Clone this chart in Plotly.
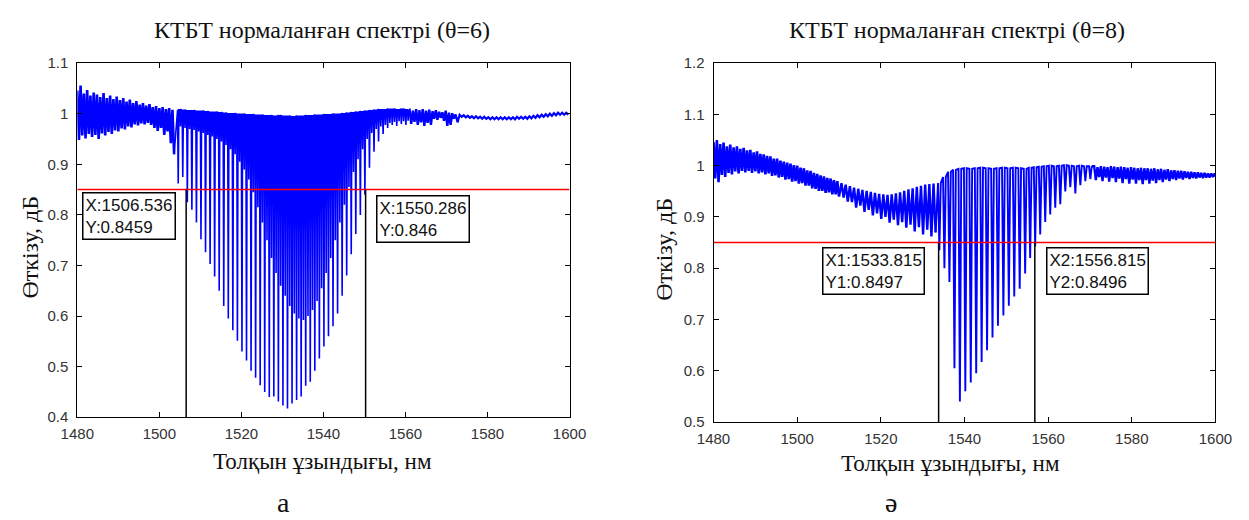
import plotly.graph_objects as go

W, H = 1249, 520

# ---------------- Panel а (θ=6) ----------------
# band 1: 1480.0 .. 1503.2 nm, fringe step 0.8 nm
a1_start, a1_step = 1480.0, 0.8
a1_top = [1.046, 1.056, 1.040, 1.047, 1.036, 1.042, 1.038, 1.033, 1.041, 1.031,
          1.036, 1.029, 1.034, 1.027, 1.031, 1.024, 1.028, 1.021, 1.025, 1.018,
          1.021, 1.016, 1.019, 1.013, 1.015, 1.011, 1.013, 1.009, 1.011, 1.008]
a1_bot = [0.948, 0.957, 0.951, 0.960, 0.954, 0.958, 0.950, 0.961, 0.957, 0.964,
          0.960, 0.967, 0.965, 0.971, 0.969, 0.975, 0.973, 0.979, 0.977, 0.981,
          0.979, 0.982, 0.978, 0.972, 0.966, 0.972, 0.958, 0.965, 0.942, 0.920]
# core: deep fringes every 1.11 nm from 1504.6, shallow fringes half-way between
a2_start, a2_step = 1504.6, 1.11
a2_top = [1.008, 1.007, 1.006, 1.006, 1.005, 1.005, 1.004, 1.003, 1.003, 1.002,
          1.001, 1.000, 1.000, 0.999, 0.999, 0.998, 0.998, 0.997, 0.997, 0.996,
          0.996, 0.995, 0.996, 0.995, 0.995, 0.994, 0.995, 0.995, 0.996, 0.996,
          0.997, 0.997, 0.998, 0.998, 0.999, 0.999, 1.000, 1.001, 1.002, 1.003,
          1.004, 1.005, 1.006, 1.007, 1.008, 1.008, 1.009, 1.009, 1.008, 1.009, 1.008]
a2_deep = [0.862, 0.875, 0.825, 0.810, 0.785, 0.752, 0.726, 0.703, 0.678, 0.650,
           0.620, 0.595, 0.572, 0.551, 0.530, 0.512, 0.492, 0.478, 0.463, 0.450,
           0.440, 0.441, 0.431, 0.423, 0.417, 0.427, 0.434, 0.441, 0.462, 0.470,
           0.492, 0.516, 0.540, 0.560, 0.580, 0.605, 0.640, 0.680, 0.722, 0.762,
           0.800, 0.840, 0.893, 0.925, 0.945, 0.960, 0.972, 0.978, 0.976, 0.980, 0.978]
a2_shallow = [0.975, 0.972, 0.970, 0.968, 0.965, 0.962, 0.958, 0.955, 0.950, 0.945,
              0.938, 0.930, 0.920, 0.905, 0.890, 0.870, 0.845, 0.815, 0.785, 0.750,
              0.715, 0.685, 0.660, 0.640, 0.620, 0.605, 0.595, 0.592, 0.600, 0.612,
              0.630, 0.655, 0.685, 0.715, 0.750, 0.785, 0.820, 0.855, 0.885, 0.910,
              0.930, 0.950, 0.962, 0.970, 0.975, 0.978, 0.982, 0.984, 0.985, 0.985, 0.986]
# band 3: 1561.0 .. 1571.4 nm
a3_start, a3_step = 1561.0, 0.8
a3_top = [1.008, 1.006, 1.009, 1.007, 1.009, 1.006, 1.008, 1.005, 1.007, 1.004,
          1.003, 1.006, 1.002, 1.001]
a3_bot = [0.980, 0.984, 0.978, 0.983, 0.976, 0.982, 0.978, 0.990, 0.988, 0.992,
          0.986, 0.976, 0.978, 0.990]
# band 4: 1572.2 .. 1599.2 nm
a4_start, a4_step = 1572.2, 1.0
a4_top = [0.999, 0.998, 0.997, 0.996, 0.995, 0.995, 0.994, 0.994, 0.993, 0.993,
          0.993, 0.993, 0.993, 0.993, 0.993, 0.994, 0.994, 0.994, 0.995, 0.996,
          0.997, 0.998, 0.999, 1.000, 1.001, 1.002, 1.002, 1.002]
a4_bot = [0.983, 0.994, 0.993, 0.992, 0.991, 0.991, 0.990, 0.990, 0.989, 0.989,
          0.989, 0.989, 0.989, 0.989, 0.989, 0.990, 0.990, 0.990, 0.991, 0.992,
          0.993, 0.994, 0.995, 0.996, 0.997, 0.998, 0.998, 0.998]
a_level = 0.85
a_cursor_x = [1506.536, 1550.286]
a_cursor_y = [0.8459, 0.846]

# ---------------- Panel ә (θ=8) ----------------
b1_start, b1_step = 1480.0, 0.8
b1_top = [1.046, 1.050, 1.042, 1.045, 1.038, 1.041, 1.036, 1.038, 1.033, 1.035,
          1.030, 1.031, 1.026, 1.028, 1.023, 1.022, 1.019, 1.018, 1.014, 1.014,
          1.010, 1.008, 1.006, 1.004, 1.001, 1.000, 0.996, 0.995, 0.991, 0.990,
          0.986, 0.984, 0.981, 0.979, 0.976, 0.975, 0.972, 0.970]
b1_bot = [0.975, 0.968, 0.982, 0.978, 0.986, 0.983, 0.989, 0.985, 0.990, 0.987,
          0.990, 0.986, 0.989, 0.985, 0.987, 0.983, 0.985, 0.980, 0.981, 0.977,
          0.978, 0.973, 0.974, 0.969, 0.970, 0.965, 0.966, 0.961, 0.961, 0.956,
          0.955, 0.951, 0.951, 0.947, 0.948, 0.944, 0.944, 0.940]
b2_start, b2_step = 1510.6, 1.0
b2_top = [0.966, 0.963, 0.960, 0.957, 0.955, 0.953, 0.951, 0.949, 0.947, 0.945,
          0.944, 0.943, 0.944, 0.946, 0.948, 0.951, 0.954, 0.956, 0.959, 0.961,
          0.963, 0.964, 0.965]
b2_bot = [0.938, 0.930, 0.929, 0.918, 0.922, 0.910, 0.914, 0.903, 0.907, 0.896,
          0.900, 0.889, 0.895, 0.884, 0.890, 0.879, 0.885, 0.872, 0.880, 0.866,
          0.875, 0.862, 0.870]
b3_nm = [1534.0, 1535.2, 1536.4, 1537.6, 1538.9, 1540.2, 1541.5, 1542.8, 1544.1, 1545.4,
         1546.7, 1548.0, 1549.3, 1550.6, 1551.9, 1553.2, 1554.5, 1555.7, 1556.9, 1558.1,
         1559.3, 1560.5, 1561.7, 1562.9, 1564.1, 1565.3, 1566.5, 1567.7, 1568.9, 1570.1]
b3_top = [0.966, 0.978, 0.988, 0.992, 0.994, 0.995, 0.994, 0.995, 0.996, 0.995,
          0.994, 0.995, 0.996, 0.995, 0.996, 0.995, 0.994, 0.996, 0.997, 0.998,
          0.999, 1.000, 0.999, 1.000, 1.001, 1.000, 0.999, 1.000, 0.999, 0.999]
b3_bot = [0.835, 0.800, 0.773, 0.605, 0.540, 0.560, 0.577, 0.595, 0.617, 0.640,
          0.665, 0.688, 0.708, 0.727, 0.745, 0.760, 0.790, 0.820, 0.843, 0.866,
          0.890, 0.905, 0.918, 0.925, 0.950, 0.958, 0.946, 0.962, 0.970, 0.974]
b4_start, b4_step = 1571.0, 0.8
b4_top = [0.999, 0.997, 0.999, 0.998, 0.997, 0.999, 0.998, 0.997, 0.998, 0.997,
          0.996, 0.997, 0.996, 0.995, 0.996, 0.995, 0.995, 0.994, 0.995, 0.993,
          0.994, 0.992, 0.993, 0.991, 0.991, 0.990, 0.990, 0.989, 0.988, 0.988,
          0.987, 0.987, 0.986, 0.986, 0.985, 0.985, 0.985]
b4_bot = [0.972, 0.978, 0.970, 0.977, 0.969, 0.976, 0.968, 0.975, 0.966, 0.974,
          0.965, 0.973, 0.965, 0.972, 0.964, 0.972, 0.965, 0.971, 0.966, 0.972,
          0.968, 0.973, 0.970, 0.974, 0.972, 0.975, 0.973, 0.976, 0.974, 0.976,
          0.975, 0.977, 0.976, 0.977, 0.977, 0.978, 0.978]
b_level = 0.85
b_cursor_x = [1533.815, 1556.815]
b_cursor_y = [0.8497, 0.8496]

titles = ["КТБТ нормаланған спектрі (θ=6)", "КТБТ нормаланған спектрі (θ=8)"]
xlabel = "Толқын ұзындығы, нм"
ylabel = "Өткізу, дБ"
captions = ["а", "ә"]
x_ticks = [1480, 1500, 1520, 1540, 1560, 1580, 1600]


def grid(start, step, n):
    return [round(start + step * i, 4) for i in range(n)]


def comb(nm, tops, bots, half):
    """Each fringe: rise to its top, fall to its bottom at nm, rise back."""
    xs, ys = [], []
    for x, t, b in zip(nm, tops, bots):
        xs += [x - half, x, x + half]
        ys += [t, b, t]
    return xs, ys


def zigzag(nm, tops, bots, step):
    """Dense oscillation: top at nm, bottom half a step later."""
    xs, ys = [], []
    for x, t, b in zip(nm, tops, bots):
        xs += [x, round(x + step / 2, 4)]
        ys += [t, b]
    return xs, ys


def core_a():
    deep_nm = grid(a2_start, a2_step, len(a2_top))
    nm, tp, bt = [], [], []
    for d, t, dv, sv in zip(deep_nm, a2_top, a2_deep, a2_shallow):
        nm += [d, round(d + a2_step / 2, 4)]
        tp += [t, t]
        bt += [dv, sv]
    return comb(nm, tp, bt, 0.15)


# (x, y, stroke width) pieces of each spectrum, drawn in order and joined end to end
segs_a = [
    (*zigzag(grid(a1_start, a1_step, len(a1_top)), a1_top, a1_bot, a1_step), 2.6),
    (*core_a(), 1.6),
    (*zigzag(grid(a3_start, a3_step, len(a3_top)), a3_top, a3_bot, a3_step), 2.4),
    (*zigzag(grid(a4_start, a4_step, len(a4_top)), a4_top, a4_bot, a4_step), 2.2),
]
segs_b = [
    (*zigzag(grid(b1_start, b1_step, len(b1_top)), b1_top, b1_bot, b1_step), 2.6),
    (*zigzag(grid(b2_start, b2_step, len(b2_top)), b2_top, b2_bot, b2_step), 2.4),
    (*comb(b3_nm, b3_top, b3_bot, 0.33), 1.9),
    (*zigzag(grid(b4_start, b4_step, len(b4_top)), b4_top, b4_bot, b4_step), 2.4),
]

fig = go.Figure()
BLUE = "#0000ff"

panels = [
    dict(xa="x", ya="y", segs=segs_a, level=a_level, cx=a_cursor_x, yr=[0.4, 1.1]),
    dict(xa="x2", ya="y2", segs=segs_b, level=b_level, cx=b_cursor_x, yr=[0.5, 1.2]),
]

for p in panels:
    prev = None
    for xs, ys, wd in p["segs"]:
        if prev is not None:
            xs = [prev[0]] + xs
            ys = [prev[1]] + ys
        prev = (xs[-1], ys[-1])
        fig.add_trace(go.Scatter(x=xs, y=ys, mode="lines", xaxis=p["xa"], yaxis=p["ya"],
                                 line=dict(color=BLUE, width=wd), hoverinfo="skip",
                                 showlegend=False))
    fig.add_trace(go.Scatter(x=[x_ticks[0], x_ticks[-1]], y=[p["level"], p["level"]],
                             mode="lines", xaxis=p["xa"], yaxis=p["ya"],
                             line=dict(color="#ff0000", width=1.5), hoverinfo="skip",
                             showlegend=False))
    for cx in p["cx"]:
        fig.add_trace(go.Scatter(x=[cx, cx], y=[p["level"], p["yr"][0]], mode="lines",
                                 xaxis=p["xa"], yaxis=p["ya"],
                                 line=dict(color="#000000", width=1.5),
                                 hoverinfo="skip", showlegend=False))

axis_common = dict(showline=True, linecolor="#000000", linewidth=1, mirror="ticks",
                   ticks="inside", ticklen=5, tickcolor="#000000", showgrid=False,
                   zeroline=False,
                   tickfont=dict(family="Liberation Sans", size=15, color="#333333"))

L = dict(x0=62, x1=568, y0=56, y1=422)
R = dict(x0=716, x1=1232, y0=56, y1=427)

fig.update_layout(
    width=W, height=H, margin=dict(l=0, r=0, t=0, b=0),
    paper_bgcolor="white", plot_bgcolor="white", showlegend=False,
    xaxis=dict(domain=[L["x0"] / W, L["x1"] / W], range=[1480, 1600],
               tickvals=x_ticks, anchor="y", ticklabelstandoff=3, **axis_common),
    yaxis=dict(domain=[1 - L["y1"] / H, 1 - L["y0"] / H], range=[0.4, 1.1],
               tick0=0.4, dtick=0.1, anchor="x", ticklabelstandoff=5, **axis_common),
    xaxis2=dict(domain=[R["x0"] / W, R["x1"] / W], range=[1480, 1600],
                tickvals=x_ticks, anchor="y2", ticklabelstandoff=3, **axis_common),
    yaxis2=dict(domain=[1 - R["y1"] / H, 1 - R["y0"] / H], range=[0.5, 1.2],
                tick0=0.5, dtick=0.1, anchor="x2", ticklabelstandoff=5, **axis_common),
)

serif = "Liberation Serif"
ann = []


def ptext(xpx, ypx, text, size, angle=0):
    return dict(x=xpx / W, y=1 - ypx / H, xref="paper", yref="paper", text=text,
                showarrow=False, xanchor="center", yanchor="middle", textangle=angle,
                font=dict(family=serif, size=size, color="#111111"))


ann.append(ptext(314, 22, titles[0], 24))
ann.append(ptext(966, 22, titles[1], 24))
ann.append(ptext(314, 468, xlabel, 23))
ann.append(ptext(960, 470, xlabel, 23))
ann.append(ptext(13, 246, ylabel, 24, -90))
ann.append(ptext(665, 248, ylabel, 24, -90))
ann.append(ptext(274, 510, captions[0], 28))
ann.append(ptext(898, 510, captions[1], 28))

tip_font = dict(family="Liberation Sans", size=17, color="#111111")
# data tips: box anchor (left, top) in data units
tips = [
    ("x", "y", f"X:{a_cursor_x[0]}<br>Y:{a_cursor_y[0]}", 1481.2, 0.845),
    ("x", "y", f"X:{a_cursor_x[1]}<br>Y:{a_cursor_y[1]}", 1552.9, 0.840),
    ("x2", "y2", f"X1:{b_cursor_x[0]}<br>Y1:{b_cursor_y[0]}", 1506.0, 0.841),
    ("x2", "y2", f"X2:{b_cursor_x[1]}<br>Y2:{b_cursor_y[1]}", 1559.6, 0.841),
]
for xr, yr, txt, bx, by in tips:
    ann.append(dict(x=bx, y=by, xref=xr, yref=yr, text=txt, showarrow=False,
                    xanchor="left", yanchor="top", align="left", font=tip_font,
                    bordercolor="#000000", borderwidth=1.5, borderpad=2,
                    bgcolor="#ffffff"))

fig.update_layout(annotations=ann)
fig.write_html("out.html")
